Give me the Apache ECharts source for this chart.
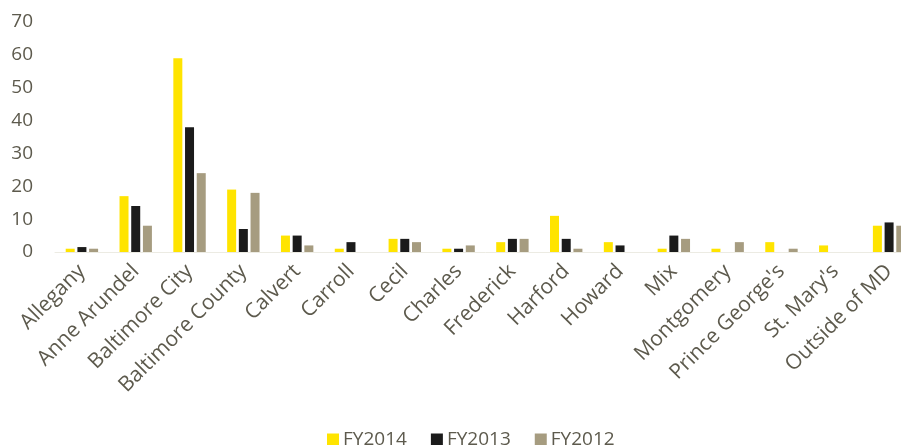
<!DOCTYPE html>
<html><head><meta charset="utf-8">
<script src="https://cdn.jsdelivr.net/npm/echarts@6/dist/echarts.min.js"></script>
<style>html,body{margin:0;padding:0;background:#fff;overflow:hidden;width:901px;height:445px}#c{width:916px;height:445px}</style>
</head><body><div id="c"></div>
<script>
const categories = ["Allegany","Anne Arundel","Baltimore City","Baltimore County","Calvert","Carroll","Cecil","Charles","Frederick","Harford","Howard","Mix","Montgomery","Prince George's","St. Mary's","Outside of MD"];
const fy2014 = [1,17,59,19,5,1,4,1,3,11,3,1,1,3,2,8];
const fy2013 = [1.5,14,38,7,5,3,4,1,4,4,2,5,0,0,0,9];
const fy2012 = [1,8,24,18,2,0,3,2,4,1,0,4,3,1,0,8];
const yTicks = [0,10,20,30,40,50,60,70];

const textColor = '#5d5a4d';
const chart = echarts.init(document.getElementById('c'));
chart.setOption({
  animation: false,
  grid: {left: 55, right: 0, top: 22, bottom: 193},
  legend: {
    left: 322, top: 425, itemWidth: 12, itemHeight: 12, itemGap: 24,
    icon: 'rect',
    textStyle: {color: textColor, fontFamily: 'Open Sans', fontSize: 19, padding: [0,0,0,-1]},
    data: ['FY2014','FY2013','FY2012']
  },
  xAxis: {
    type: 'category', data: categories,
    axisLine: {show: true, lineStyle: {color: '#ecebe3', width: 1}},
    axisTick: {show: false},
    axisLabel: {rotate: 45, interval: 0, margin: 16, color: textColor, fontFamily: 'Open Sans', fontSize: 21}
  },
  yAxis: {
    type: 'value', min: 0, max: 70, interval: 10,
    splitLine: {show: false}, axisLine: {show: false}, axisTick: {show: false},
    axisLabel: {margin: 22, color: textColor, fontFamily: 'Open Sans', fontSize: 19,
      formatter: v => yTicks.includes(v) ? String(v) : ''}
  },
  series: [
    {name: 'FY2014', type: 'bar', data: fy2014, barWidth: 9, barGap: '30%', itemStyle: {color: '#ffe400'}},
    {name: 'FY2013', type: 'bar', data: fy2013, barWidth: 9, barGap: '30%', itemStyle: {color: '#1b1b1b'}},
    {name: 'FY2012', type: 'bar', data: fy2012, barWidth: 9, barGap: '30%', itemStyle: {color: '#a69c80'}}
  ]
});
</script></body></html>
